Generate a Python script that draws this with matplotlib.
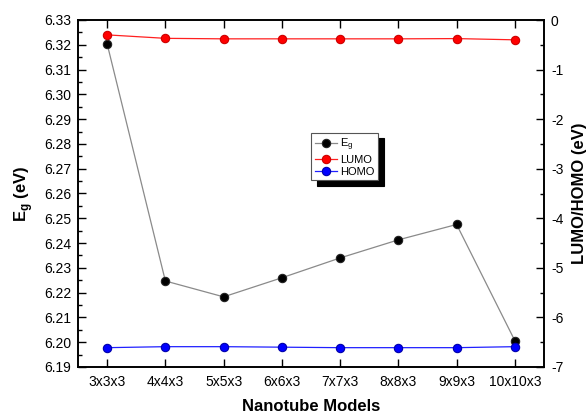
#!/usr/bin/env python3

import matplotlib
matplotlib.use("Agg")
import matplotlib.pyplot as plt
from matplotlib.ticker import MultipleLocator, FormatStrFormatter

plt.rcParams['font.family'] = ['Liberation Sans', 'DejaVu Sans']
plt.rcParams['axes.unicode_minus'] = False

models = ['3x3x3', '4x4x3', '5x5x3', '6x6x3', '7x7x3', '8x8x3', '9x9x3', '10x10x3']
eg   = [6.3204, 6.2247, 6.2183, 6.2260, 6.2340, 6.2413, 6.2475, 6.2006]
lumo = [-0.30, -0.37, -0.38, -0.38, -0.38, -0.38, -0.375, -0.40]
homo = [-6.61, -6.59, -6.59, -6.60, -6.61, -6.61, -6.61, -6.59]

##################################################################

fig, ax = plt.subplots(figsize=(5.87, 4.16), dpi=100)
fig.subplots_adjust(left=78/587, right=544/587, top=1-20/416, bottom=1-367/416)
ax2 = ax.twinx()

x = range(len(models))

mk = dict(marker='o', markersize=6, markeredgewidth=0.8, linewidth=0.9)
l_eg, = ax.plot(x, eg, color='#8a8a8a', markerfacecolor='black', markeredgecolor='#222222', label='E$_\\mathregular{g}$', **mk)
l_lumo, = ax2.plot(x, lumo, color='#ff2020', markerfacecolor='#ff0000', markeredgecolor='#cc0000', label='LUMO', **mk)
l_homo, = ax2.plot(x, homo, color='#2020ff', markerfacecolor='#0000ff', markeredgecolor='#0000aa', label='HOMO', **mk)

ax.set_xlim(-0.5, 7.5)
ax.set_ylim(6.19, 6.33)
ax2.set_ylim(-7, 0)

ax.set_xticks(list(x))
ax.set_xticklabels(models)
ax.yaxis.set_major_locator(MultipleLocator(0.01))
ax.yaxis.set_minor_locator(MultipleLocator(0.005))
ax.yaxis.set_major_formatter(FormatStrFormatter('%.2f'))
ax2.yaxis.set_major_locator(MultipleLocator(1))
ax2.yaxis.set_minor_locator(MultipleLocator(0.5))

ax.tick_params(axis='x', which='both', direction='in', top=True, length=6, width=1, labelsize=10, pad=6)
ax.tick_params(axis='y', which='major', direction='in', length=6, width=1, labelsize=10, pad=5)
ax.tick_params(axis='y', which='minor', direction='in', length=3, width=1)
ax2.tick_params(axis='y', which='major', direction='in', length=6, width=1, labelsize=10, pad=5)
ax2.tick_params(axis='y', which='minor', direction='in', length=3, width=1)

for a in (ax, ax2):
    for s in a.spines.values():
        s.set_linewidth(1.2)

ax.set_xlabel('Nanotube Models', fontsize=12, fontweight='bold', labelpad=7)
ax.set_ylabel('E$_\\mathregular{g}$ (eV)', fontsize=12, fontweight='bold', labelpad=6)
ax2.set_ylabel('LUMO/HOMO (eV)', fontsize=12, fontweight='bold', labelpad=6)

leg = ax2.legend(handles=[l_eg, l_lumo, l_homo], loc='upper left', bbox_to_anchor=(0.501, 0.675),
                 borderaxespad=0, fontsize=8, fancybox=False, framealpha=1,
                 shadow={'color': 'black', 'alpha': 1, 'ox': 4, 'oy': -4},
                 handlelength=2.0, handletextpad=0.3, labelspacing=0.2, borderpad=0.3)
leg.get_frame().set_edgecolor('#555555')
leg.get_frame().set_linewidth(0.8)

fig.savefig("out.png", dpi=100)
